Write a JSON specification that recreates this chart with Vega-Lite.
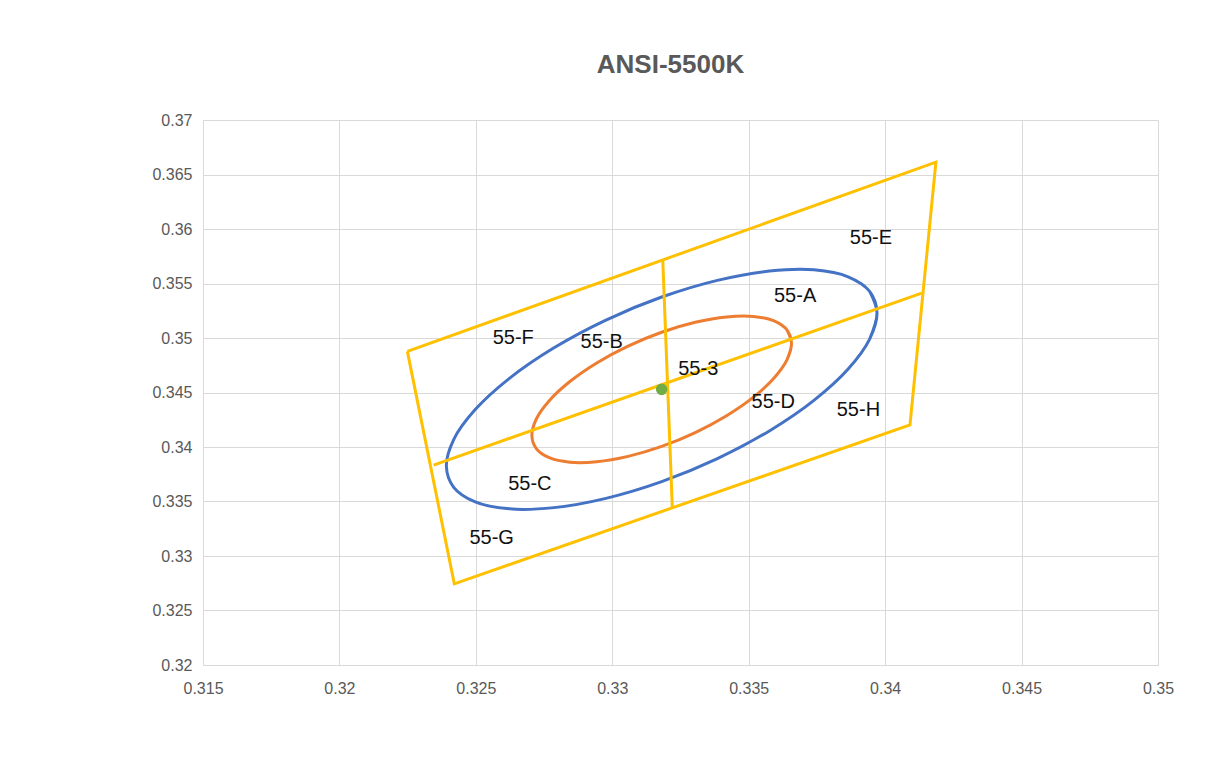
{
  "$schema": "https://vega.github.io/schema/vega-lite/v6.json",
  "width": 955,
  "height": 545,
  "autosize": {"type": "none"},
  "padding": {"left": 203, "top": 120, "right": 71, "bottom": 95},
  "background": "white",
  "title": {"text": "ANSI-5500K", "font": "Liberation Sans", "fontSize": 26, "fontWeight": "bold", "color": "#595959", "anchor": "middle", "dx": -10, "offset": 34},
  "config": {"view": {"stroke": null}},
  "datasets": {
    "frame": [
      {"s": "quad", "o": 0, "x": 0.32249, "y": 0.34877},
      {"s": "quad", "o": 1, "x": 0.34186, "y": 0.36613},
      {"s": "quad", "o": 2, "x": 0.34091, "y": 0.34202},
      {"s": "quad", "o": 3, "x": 0.32421, "y": 0.32745},
      {"s": "quad", "o": 4, "x": 0.32249, "y": 0.34877},
      {"s": "vert", "o": 0, "x": 0.33185, "y": 0.35718},
      {"s": "vert", "o": 1, "x": 0.3322, "y": 0.33442},
      {"s": "horiz", "o": 0, "x": 0.32345, "y": 0.33834},
      {"s": "horiz", "o": 1, "x": 0.34134, "y": 0.35412}
    ],
    "ellipses": [
      {"s": "outer", "o": -1, "x": 0.339432, "y": 0.349895},
      {"s": "outer", "o": 0, "x": 0.339701, "y": 0.352327},
      {"s": "outer", "o": 1, "x": 0.339432, "y": 0.354279},
      {"s": "outer", "o": 2, "x": 0.338644, "y": 0.355618},
      {"s": "outer", "o": 3, "x": 0.33739, "y": 0.356254},
      {"s": "outer", "o": 4, "x": 0.335756, "y": 0.356142},
      {"s": "outer", "o": 5, "x": 0.333852, "y": 0.35529},
      {"s": "outer", "o": 6, "x": 0.33181, "y": 0.353758},
      {"s": "outer", "o": 7, "x": 0.329768, "y": 0.351648},
      {"s": "outer", "o": 8, "x": 0.327864, "y": 0.349104},
      {"s": "outer", "o": 9, "x": 0.32623, "y": 0.346302},
      {"s": "outer", "o": 10, "x": 0.324976, "y": 0.34343},
      {"s": "outer", "o": 11, "x": 0.324188, "y": 0.340685},
      {"s": "outer", "o": 12, "x": 0.323919, "y": 0.338253},
      {"s": "outer", "o": 13, "x": 0.324188, "y": 0.336301},
      {"s": "outer", "o": 14, "x": 0.324976, "y": 0.334962},
      {"s": "outer", "o": 15, "x": 0.32623, "y": 0.334326},
      {"s": "outer", "o": 16, "x": 0.327864, "y": 0.334438},
      {"s": "outer", "o": 17, "x": 0.329768, "y": 0.33529},
      {"s": "outer", "o": 18, "x": 0.33181, "y": 0.336822},
      {"s": "outer", "o": 19, "x": 0.333852, "y": 0.338932},
      {"s": "outer", "o": 20, "x": 0.335756, "y": 0.341476},
      {"s": "outer", "o": 21, "x": 0.33739, "y": 0.344278},
      {"s": "outer", "o": 22, "x": 0.338644, "y": 0.34715},
      {"s": "outer", "o": 23, "x": 0.339432, "y": 0.349895},
      {"s": "outer", "o": 24, "x": 0.339701, "y": 0.352327},
      {"s": "outer", "o": 25, "x": 0.339432, "y": 0.354279},
      {"s": "inner", "o": -1, "x": 0.336405, "y": 0.348011},
      {"s": "inner", "o": 0, "x": 0.336567, "y": 0.34951},
      {"s": "inner", "o": 1, "x": 0.336405, "y": 0.350721},
      {"s": "inner", "o": 2, "x": 0.33593, "y": 0.351563},
      {"s": "inner", "o": 3, "x": 0.335174, "y": 0.351976},
      {"s": "inner", "o": 4, "x": 0.334189, "y": 0.351934},
      {"s": "inner", "o": 5, "x": 0.333041, "y": 0.35144},
      {"s": "inner", "o": 6, "x": 0.33181, "y": 0.350526},
      {"s": "inner", "o": 7, "x": 0.330579, "y": 0.349256},
      {"s": "inner", "o": 8, "x": 0.329431, "y": 0.347714},
      {"s": "inner", "o": 9, "x": 0.328446, "y": 0.346008},
      {"s": "inner", "o": 10, "x": 0.32769, "y": 0.344253},
      {"s": "inner", "o": 11, "x": 0.327215, "y": 0.342569},
      {"s": "inner", "o": 12, "x": 0.327053, "y": 0.34107},
      {"s": "inner", "o": 13, "x": 0.327215, "y": 0.339859},
      {"s": "inner", "o": 14, "x": 0.32769, "y": 0.339017},
      {"s": "inner", "o": 15, "x": 0.328446, "y": 0.338604},
      {"s": "inner", "o": 16, "x": 0.329431, "y": 0.338646},
      {"s": "inner", "o": 17, "x": 0.330579, "y": 0.33914},
      {"s": "inner", "o": 18, "x": 0.33181, "y": 0.340054},
      {"s": "inner", "o": 19, "x": 0.333041, "y": 0.341324},
      {"s": "inner", "o": 20, "x": 0.334189, "y": 0.342866},
      {"s": "inner", "o": 21, "x": 0.335174, "y": 0.344572},
      {"s": "inner", "o": 22, "x": 0.33593, "y": 0.346327},
      {"s": "inner", "o": 23, "x": 0.336405, "y": 0.348011},
      {"s": "inner", "o": 24, "x": 0.336567, "y": 0.34951},
      {"s": "inner", "o": 25, "x": 0.336405, "y": 0.350721}
    ],
    "center": [
      {"x": 0.33181, "y": 0.34529}
    ],
    "labels": [
      {"label": "55-E", "x": 0.33948, "y": 0.35917},
      {"label": "55-A", "x": 0.3367, "y": 0.35385},
      {"label": "55-F", "x": 0.32637, "y": 0.34998},
      {"label": "55-B", "x": 0.32961, "y": 0.34966},
      {"label": "55-3", "x": 0.33315, "y": 0.34719},
      {"label": "55-D", "x": 0.3359, "y": 0.34413},
      {"label": "55-H", "x": 0.33902, "y": 0.34339},
      {"label": "55-C", "x": 0.32698, "y": 0.33661},
      {"label": "55-G", "x": 0.32558, "y": 0.33162}
    ]
  },
  "encoding": {
    "x": {
      "field": "x", "type": "quantitative",
      "scale": {"domain": [0.315, 0.35], "nice": false, "zero": false},
      "axis": {
        "values": [0.315, 0.32, 0.325, 0.33, 0.335, 0.34, 0.345, 0.35],
        "format": "~g", "title": null, "grid": true, "gridColor": "#d9d9d9", "gridWidth": 1,
        "domain": true, "domainColor": "#d9d9d9", "domainWidth": 1, "ticks": false,
        "labelFont": "Liberation Sans", "labelFontSize": 16, "labelColor": "#595959",
        "labelPadding": 15, "labelFlush": false, "labelOverlap": false
      }
    },
    "y": {
      "field": "y", "type": "quantitative",
      "scale": {"domain": [0.32, 0.37], "nice": false, "zero": false},
      "axis": {
        "values": [0.32, 0.325, 0.33, 0.335, 0.34, 0.345, 0.35, 0.355, 0.36, 0.365, 0.37],
        "format": "~g", "title": null, "grid": true, "gridColor": "#d9d9d9", "gridWidth": 1,
        "domain": true, "domainColor": "#d9d9d9", "domainWidth": 1, "ticks": false,
        "labelFont": "Liberation Sans", "labelFontSize": 16, "labelColor": "#595959",
        "labelPadding": 11, "labelFlush": false, "labelOverlap": false
      }
    }
  },
  "layer": [
    {
      "data": {"name": "ellipses"},
      "mark": {"type": "line", "strokeWidth": 3, "interpolate": "catmull-rom"},
      "encoding": {
        "detail": {"field": "s", "type": "nominal"},
        "order": {"field": "o", "type": "quantitative"},
        "color": {"field": "s", "type": "nominal", "scale": {"domain": ["outer", "inner"], "range": ["#4472C4", "#ED7D31"]}, "legend": null}
      }
    },
    {
      "data": {"name": "frame"},
      "mark": {"type": "line", "strokeWidth": 3, "color": "#FFC000"},
      "encoding": {
        "detail": {"field": "s", "type": "nominal"},
        "order": {"field": "o", "type": "quantitative"}
      }
    },
    {
      "data": {"name": "center"},
      "mark": {"type": "circle", "size": 135, "color": "#70AD47", "opacity": 1}
    },
    {
      "data": {"name": "labels"},
      "mark": {"type": "text", "font": "Liberation Sans", "fontSize": 20, "color": "#111111", "align": "center", "baseline": "middle"},
      "encoding": {"text": {"field": "label", "type": "nominal"}}
    }
  ]
}
